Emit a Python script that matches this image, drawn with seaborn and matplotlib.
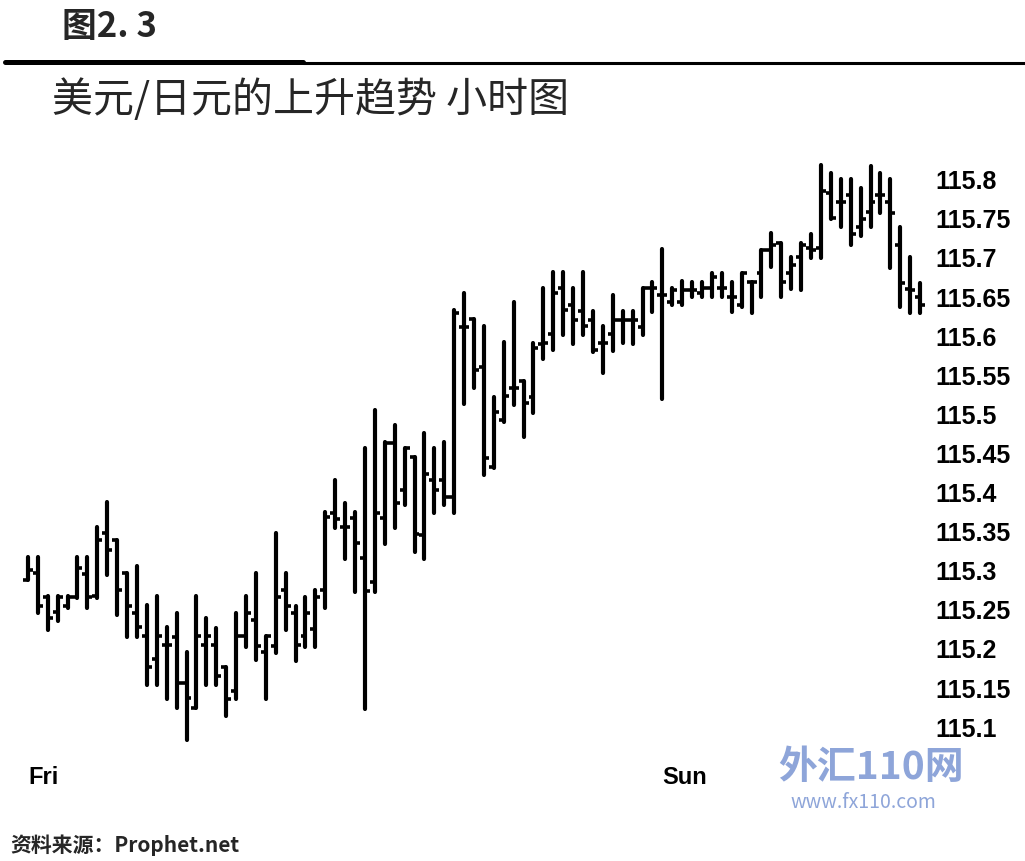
import numpy as np
import matplotlib.pyplot as plt
import pandas as pd
import seaborn as sns
from matplotlib.lines import Line2D

# OHLC orari USD/JPY
opens = [115.288, 115.297, 115.266, 115.247, 115.255, 115.266, 115.296, 115.268, 115.348, 115.339,
         115.297, 115.246, 115.216, 115.187, 115.205, 115.215, 115.156, 115.124, 115.205, 115.205,
         115.177, 115.146, 115.216, 115.237, 115.196, 115.204, 115.275, 115.246, 115.216, 115.225,
         115.275, 115.374, 115.356, 115.367, 115.316, 115.285, 115.367, 115.463, 115.403, 115.445,
         115.346, 115.416, 115.416, 115.394, 115.612, 115.622, 115.561, 115.433, 115.493, 115.534,
         115.543, 115.522, 115.590, 115.603, 115.662, 115.640, 115.632, 115.621, 115.591, 115.603,
         115.621, 115.621, 115.612, 115.662, 115.653, 115.643, 115.644, 115.659, 115.655, 115.662,
         115.662, 115.650, 115.640, 115.669, 115.681, 115.710, 115.719, 115.681, 115.701, 115.713,
         115.713, 115.783, 115.771, 115.781, 115.740, 115.759, 115.781, 115.772, 115.717, 115.660,
         115.650]
highs = [115.317, 115.317, 115.268, 115.268, 115.268, 115.317, 115.317, 115.356, 115.388, 115.339,
         115.297, 115.306, 115.256, 115.268, 115.228, 115.246, 115.196, 115.268, 115.239, 115.227,
         115.177, 115.246, 115.268, 115.297, 115.216, 115.348, 115.297, 115.255, 115.266, 115.275,
         115.375, 115.416, 115.387, 115.375, 115.457, 115.506, 115.465, 115.486, 115.457, 115.445,
         115.476, 115.457, 115.465, 115.634, 115.655, 115.622, 115.613, 115.522, 115.593, 115.643,
         115.543, 115.591, 115.662, 115.682, 115.682, 115.662, 115.682, 115.632, 115.613, 115.653,
         115.632, 115.632, 115.662, 115.669, 115.712, 115.662, 115.671, 115.669, 115.669, 115.681,
         115.681, 115.669, 115.681, 115.669, 115.710, 115.732, 115.719, 115.701, 115.719, 115.731,
         115.819, 115.809, 115.801, 115.801, 115.790, 115.818, 115.809, 115.801, 115.740, 115.701,
         115.668]
lows = [115.288, 115.246, 115.224, 115.236, 115.253, 115.265, 115.253, 115.265, 115.294, 115.244,
        115.215, 115.215, 115.154, 115.154, 115.136, 115.124, 115.083, 115.124, 115.154, 115.154,
        115.114, 115.136, 115.202, 115.186, 115.136, 115.195, 115.224, 115.184, 115.202, 115.202,
        115.253, 115.355, 115.315, 115.273, 115.123, 115.273, 115.334, 115.355, 115.384, 115.324,
        115.315, 115.374, 115.384, 115.374, 115.513, 115.534, 115.422, 115.431, 115.490, 115.512,
        115.471, 115.502, 115.571, 115.582, 115.602, 115.590, 115.602, 115.580, 115.553, 115.581,
        115.591, 115.590, 115.602, 115.631, 115.520, 115.640, 115.640, 115.650, 115.650, 115.650,
        115.650, 115.631, 115.637, 115.630, 115.650, 115.689, 115.650, 115.660, 115.659, 115.700,
        115.700, 115.750, 115.739, 115.717, 115.728, 115.739, 115.758, 115.687, 115.637, 115.630,
        115.630]
closes = [115.301, 115.255, 115.239, 115.266, 115.266, 115.303, 115.266, 115.339, 115.326, 115.276,
          115.255, 115.228, 115.177, 115.216, 115.205, 115.156, 115.137, 115.216, 115.216, 115.166,
          115.136, 115.216, 115.246, 115.204, 115.216, 115.266, 115.255, 115.205, 115.246, 115.266,
          115.369, 115.366, 115.356, 115.335, 115.274, 115.374, 115.463, 115.387, 115.457, 115.347,
          115.424, 115.403, 115.394, 115.630, 115.612, 115.557, 115.444, 115.503, 115.524, 115.534,
          115.515, 115.585, 115.591, 115.655, 115.634, 115.621, 115.613, 115.582, 115.591, 115.621,
          115.621, 115.621, 115.662, 115.662, 115.653, 115.659, 115.659, 115.659, 115.662, 115.676,
          115.662, 115.650, 115.681, 115.669, 115.710, 115.717, 115.669, 115.691, 115.717, 115.710,
          115.785, 115.751, 115.771, 115.730, 115.750, 115.771, 115.781, 115.758, 115.668, 115.659,
          115.640]

y_ticks = [115.1, 115.15, 115.2, 115.25, 115.3, 115.35, 115.4, 115.45, 115.5, 115.55,
           115.6, 115.65, 115.7, 115.75, 115.8]
y_labels = ['115.1', '115.15', '115.2', '115.25', '115.3', '115.35', '115.4', '115.45', '115.5', '115.55',
            '115.6', '115.65', '115.7', '115.75', '115.8']
day_ticks = [1, 65]
day_labels = ['Fri', 'Sun']

sns.set_theme(style='white')
plt.rcParams['font.family'] = ['Noto Sans CJK SC', 'DejaVu Sans']

df = pd.DataFrame({'bar': np.arange(1, len(opens) + 1), 'open': opens, 'high': highs,
                   'low': lows, 'close': closes})
df_long = df.melt(id_vars='bar', value_vars=['high', 'low'], value_name='price')

W, H = 1025, 861
fig = plt.figure(figsize=(W / 100, H / 100), dpi=100)
ax = fig.add_axes([18 / W, 1 - 760 / H, 912 / W, 610 / H])

# barre high-low
sns.lineplot(data=df_long, x='bar', y='price', units='bar', estimator=None,
             color='black', lw=3.0, ax=ax)
# tacche open (sinistra) e close (destra)
ax.hlines(df['open'], df['bar'] - 0.5, df['bar'], color='black', lw=2.6)
ax.hlines(df['close'], df['bar'], df['bar'] + 0.5, color='black', lw=2.6)

ax.set_xlim(0, 92)
ax.set_ylim(115.058, 115.838)
ax.set_xlabel('')
ax.set_ylabel('')
for s in ax.spines.values():
    s.set_visible(False)

ax.yaxis.tick_right()
ax.set_yticks(y_ticks, y_labels)
ax.set_xticks(day_ticks, day_labels)
ax.tick_params(axis='y', length=0, pad=4, labelsize=18)
ax.tick_params(axis='x', length=0, pad=4, labelsize=17)
for lbl in ax.get_yticklabels() + ax.get_xticklabels():
    lbl.set_fontweight('bold')
    lbl.set_fontfamily('Liberation Sans')
    lbl.set_color('black')
for lbl in ax.get_xticklabels():
    lbl.set_horizontalalignment('left')

# intestazione
fig.text(62 / W, 1 - 26 / H, '图2. 3', fontsize=25, fontweight='heavy', va='center')
fig.add_artist(Line2D([5 / W, 303 / W], [1 - 62 / H] * 2, lw=3.6, color='black'))
fig.add_artist(Line2D([303 / W, 1.0], [1 - 63 / H] * 2, lw=2.2, color='black'))
fig.text(52 / W, 1 - 100 / H, '美元/日元的上升趋势 小时图', fontsize=29.5, va='center')
fig.text(10 / W, 1 - 845 / H, '资料来源：Prophet.net', fontsize=15, fontweight='bold', va='center')

# filigrana
fig.text(778 / W, 1 - 768 / H, '外汇110网', fontsize=28, fontweight='bold', style='italic',
         color='#8ea5d9', va='center')
fig.text(790 / W, 1 - 802 / H, 'www.fx110.com', fontsize=14, color='#8ea5d9', va='center')

fig.savefig('out.png', dpi=100)
